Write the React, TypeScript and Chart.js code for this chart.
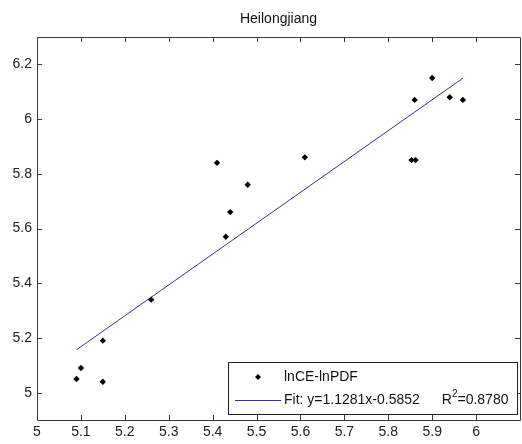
import { useEffect, useRef } from "react";
import { Chart, registerables } from "chart.js";

Chart.register(...registerables);

// Observed pairs (lnCE, lnPDF)
const lnCE = [5.09, 5.1, 5.15, 5.15, 5.26, 5.41, 5.43, 5.44, 5.48, 5.61, 5.853, 5.862, 5.86, 5.9, 5.94, 5.97];
const lnPDF = [5.05, 5.09, 5.19, 5.04, 5.34, 5.84, 5.57, 5.66, 5.76, 5.86, 5.85, 5.85, 6.07, 6.15, 6.08, 6.07];

// Linear fit reported in the legend
const fitSlope = 1.1281;
const fitIntercept = -0.5852;
const fitR2 = "0.8780";
const fitXRange = [5.09, 5.97];

const chartTitle = "Heilongjiang";
const seriesLabel = "lnCE-lnPDF";

const xTicks = [5, 5.1, 5.2, 5.3, 5.4, 5.5, 5.6, 5.7, 5.8, 5.9, 6];
const yTicks = [5, 5.2, 5.4, 5.6, 5.8, 6, 6.2];
const xLimits = [5, 6.1];
const yLimits = [4.9, 6.3];

const FONT = "Arial, 'Liberation Sans', Helvetica, sans-serif";
const AXIS_COLOR = "#3a3a3a";
const FIT_COLOR = "#2f2fb0";

const fmt = (v: number) => {
  const r = Math.round(v * 10) / 10;
  return Number.isInteger(r) ? String(r) : r.toFixed(1);
};

// Box around the axes with inward-pointing tick marks, plus the legend panel
const matlabAxes = {
  id: "matlabAxes",
  afterDraw(chart: any) {
    const { ctx, chartArea } = chart;
    const { left, right, top, bottom } = chartArea;
    const xs = chart.scales.x;
    const ys = chart.scales.y;
    const tl = 5;
    ctx.save();
    ctx.strokeStyle = AXIS_COLOR;
    ctx.lineWidth = 1;
    ctx.beginPath();
    ctx.rect(Math.round(left) + 0.5, Math.round(top) + 0.5, Math.round(right - left), Math.round(bottom - top));
    ctx.stroke();
    ctx.beginPath();
    for (const v of xTicks) {
      const px = Math.round(xs.getPixelForValue(v)) + 0.5;
      ctx.moveTo(px, bottom);
      ctx.lineTo(px, bottom - tl);
      ctx.moveTo(px, top);
      ctx.lineTo(px, top + tl);
    }
    for (const v of yTicks) {
      const py = Math.round(ys.getPixelForValue(v)) + 0.5;
      ctx.moveTo(left, py);
      ctx.lineTo(left + tl, py);
      ctx.moveTo(right, py);
      ctx.lineTo(right - tl, py);
    }
    ctx.stroke();

    // legend panel
    const boxL = 228.5;
    const boxR = 517.5;
    const boxT = 362.5;
    const boxB = 414.5;
    ctx.fillStyle = "#ffffff";
    ctx.fillRect(boxL, boxT, boxR - boxL, boxB - boxT);
    ctx.strokeStyle = "#202020";
    ctx.strokeRect(boxL, boxT, boxR - boxL, boxB - boxT);

    const row1 = 377;
    const row2 = 400;
    const textX = 284;
    // marker sample
    ctx.fillStyle = "#000";
    ctx.beginPath();
    ctx.moveTo(258, row1 - 3);
    ctx.lineTo(261, row1);
    ctx.lineTo(258, row1 + 3);
    ctx.lineTo(255, row1);
    ctx.closePath();
    ctx.fill();
    // line sample
    ctx.strokeStyle = FIT_COLOR;
    ctx.beginPath();
    ctx.moveTo(235, row2 + 0.5);
    ctx.lineTo(281, row2 + 0.5);
    ctx.stroke();

    ctx.fillStyle = "#111";
    ctx.font = `14px ${FONT}`;
    ctx.textBaseline = "middle";
    ctx.textAlign = "left";
    ctx.fillText(seriesLabel, textX, row1);
    const fitText = `Fit: y=${fitSlope.toFixed(4)}x${fitIntercept.toFixed(4)}`;
    ctx.fillText(fitText, textX, row2);
    let x = textX + ctx.measureText(fitText).width + 22;
    ctx.fillText("R", x, row2);
    x += ctx.measureText("R").width;
    ctx.font = `10px ${FONT}`;
    ctx.fillText("2", x, row2 - 6);
    x += ctx.measureText("2").width;
    ctx.font = `14px ${FONT}`;
    ctx.fillText(`=${fitR2}`, x, row2);
    ctx.restore();
  },
};

export default function App() {
  const ref = useRef<HTMLCanvasElement | null>(null);

  useEffect(() => {
    if (!ref.current) return;
    const points = lnCE.map((x, i) => ({ x, y: lnPDF[i] }));
    const fitLine = fitXRange.map((x) => ({ x, y: fitSlope * x + fitIntercept }));

    const chart = new Chart(ref.current, {
      type: "scatter",
      data: {
        datasets: [
          {
            label: seriesLabel,
            data: points,
            pointStyle: "rectRot",
            pointRadius: 3.2,
            backgroundColor: "#000",
            borderColor: "#000",
            borderWidth: 0,
            showLine: false,
          },
          {
            label: "Fit",
            data: fitLine,
            type: "line",
            borderColor: FIT_COLOR,
            borderWidth: 1,
            pointRadius: 0,
            fill: false,
          },
        ],
      },
      options: {
        responsive: false,
        animation: false,
        layout: { padding: 0 },
        plugins: {
          legend: { display: false },
          tooltip: { enabled: false },
          title: {
            display: true,
            text: chartTitle,
            fullSize: false,
            color: "#111",
            font: { family: FONT, size: 14, weight: "normal" },
            padding: { top: 11, bottom: 9.2 },
          },
        },
        scales: {
          x: {
            type: "linear",
            min: xLimits[0],
            max: xLimits[1],
            afterBuildTicks: (s: any) => {
              s.ticks = xTicks.map((value) => ({ value }));
            },
            afterFit: (s: any) => {
              s.height = 24;
            },
            ticks: {
              autoSkip: false,
              maxRotation: 0,
              padding: 4,
              color: "#222",
              font: { family: FONT, size: 14 },
              callback: (v: any) => fmt(Number(v)),
            },
            grid: { display: false, drawTicks: false },
            border: { display: false },
          },
          y: {
            type: "linear",
            min: yLimits[0],
            max: yLimits[1],
            afterBuildTicks: (s: any) => {
              s.ticks = yTicks.map((value) => ({ value }));
            },
            afterFit: (s: any) => {
              s.width = 37;
            },
            ticks: {
              autoSkip: false,
              padding: 5,
              color: "#222",
              font: { family: FONT, size: 14 },
              callback: (v: any) => fmt(Number(v)),
            },
            grid: { display: false, drawTicks: false },
            border: { display: false },
          },
        },
      },
      plugins: [matlabAxes],
    });
    return () => chart.destroy();
  }, []);

  return (
    <div style={{ position: "fixed", left: 0, top: 0, width: 522, height: 444, overflow: "hidden", background: "#fff" }}>
      <canvas ref={ref} width={524} height={444} style={{ display: "block" }} />
    </div>
  );
}
